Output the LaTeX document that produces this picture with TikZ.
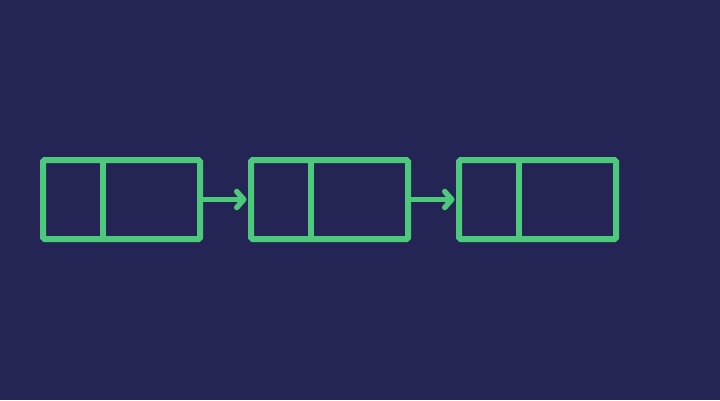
\documentclass[tikz,border=0pt]{standalone}
\usetikzlibrary{arrows.meta}
\definecolor{navy}{RGB}{36,37,85}
\definecolor{mint}{RGB}{76,201,122}
\tikzset{
	cell/.style={draw=mint, line width=6pt, rounded corners=1.5pt, inner sep=0pt, minimum width=157pt, minimum height=79pt},
	link/.style={draw=mint, line width=5.5pt, shorten >=1.5pt, -{Straight Barb[length=7pt, width=16pt, line cap=round, line join=round]}}
}
\begin{document}
\begin{tikzpicture}[x=1pt, y=-1pt]
	\fill[navy] (0, 0) rectangle (720, 400);
	\node[cell] (1) at (121.5, 199.5) {};
	\node[cell] (2) at (329.5, 199.5) {};
	\node[cell] (3) at (537.5, 199.5) {};
	\foreach \n in {1, 2, 3}
		\draw[mint, line width=6pt] ([xshift=63pt]\n.north west) to ([xshift=63pt]\n.south west);
	\draw[link] (1.east) to (2.west);
	\draw[link] (2.east) to (3.west);
\end{tikzpicture}
\end{document}
